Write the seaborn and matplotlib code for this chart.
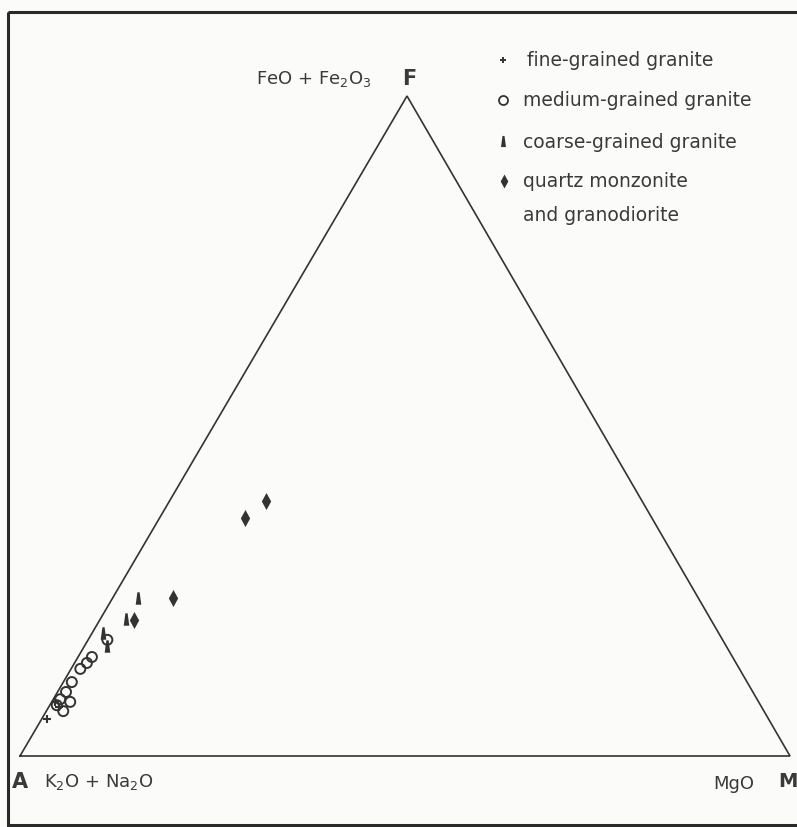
import numpy as np
import pandas as pd
import matplotlib
matplotlib.use("Agg")
import matplotlib.pyplot as plt
from matplotlib.patches import Rectangle
import seaborn as sns

# ---------------------------------------------------------------
# AFM data (wt% ratios), A / F / M
# ---------------------------------------------------------------
fine_A = [93.7, 91.4, 91.3]
fine_F = [5.6, 8.2, 7.4]
fine_M = [0.7, 0.4, 1.3]

medium_A = [79.9, 83.2, 84.3, 85.6, 87.7, 89.2, 90.5, 89.4, 91.0, 91.4]
medium_F = [17.6, 15.0, 14.1, 13.2, 11.2, 9.7, 8.6, 8.2, 6.8, 7.7]
medium_M = [2.5, 1.8, 1.6, 1.2, 1.1, 1.1, 0.9, 2.4, 2.2, 0.9]

coarse_A = [72.8, 75.9, 80.0, 80.4]
coarse_F = [23.9, 20.8, 18.6, 16.7]
coarse_M = [3.3, 3.3, 1.4, 2.9]

qm_A = [48.9, 52.8, 68.3, 74.9]
qm_F = [38.6, 36.1, 23.9, 20.6]
qm_M = [12.5, 11.1, 7.8, 4.5]

rock_labels = ["fine-grained granite", "medium-grained granite",
               "coarse-grained granite", "quartz monzonite\nand granodiorite"]

# triangle corners in figure pixel space (A, M, F)
A_xy = (20, 757)
M_xy = (790, 757)
F_xy = (407, 97)

INK = "#333333"
TXT = "#3a3a3a"

# custom marker shapes
coarse_marker = [(-0.18, 1), (0.18, 1), (0.45, -1), (-0.45, -1), (-0.18, 1)]
diamond_marker = [(0, 1), (0.55, 0), (0, -1), (-0.55, 0), (0, 1)]


def afm_to_xy(a, f, m):
    a, f, m = np.asarray(a, float), np.asarray(f, float), np.asarray(m, float)
    tot = a + f + m
    f, m = f / tot, m / tot
    x = A_xy[0] + m * (M_xy[0] - A_xy[0]) + f * (F_xy[0] - A_xy[0])
    y = A_xy[1] + f * (F_xy[1] - A_xy[1])
    return x, y


frames = []
for lab, a, f, m in zip(rock_labels,
                        [fine_A, medium_A, coarse_A, qm_A],
                        [fine_F, medium_F, coarse_F, qm_F],
                        [fine_M, medium_M, coarse_M, qm_M]):
    x, y = afm_to_xy(a, f, m)
    frames.append(pd.DataFrame({"x": x, "y": y, "rock": lab}))
df = pd.concat(frames, ignore_index=True)

sns.set_style("white")
plt.rcParams["font.family"] = ["DejaVu Sans"]
plt.rcParams["mathtext.default"] = "regular"

fig = plt.figure(figsize=(7.97, 8.28), dpi=100, facecolor="#fbfbf9")
ax = fig.add_axes([0, 0, 1, 1])
ax.set_facecolor("#fbfbf9")
ax.axis("off")

# outer frame
ax.add_patch(Rectangle((8, 13), 820, 813, fill=False, ec="#2a2a2a", lw=2.2))

# triangle
tri = np.array([A_xy, M_xy, F_xy, A_xy])
ax.plot(tri[:, 0], tri[:, 1], color=INK, lw=1.2, solid_joinstyle="miter")

# points
sns.scatterplot(data=df[df.rock == rock_labels[0]], x="x", y="y", ax=ax,
                marker="+", s=34, color=INK, linewidth=1.5)
sns.scatterplot(data=df[df.rock == rock_labels[1]], x="x", y="y", ax=ax,
                marker="o", s=52, facecolor="none", edgecolor=INK, linewidth=1.4)
sns.scatterplot(data=df[df.rock == rock_labels[2]], x="x", y="y", ax=ax,
                marker=coarse_marker, s=80, color=INK, linewidth=0)
sns.scatterplot(data=df[df.rock == rock_labels[3]], x="x", y="y", ax=ax,
                marker=diamond_marker, s=150, color=INK, linewidth=0)
ax.set_xlim(0, 797)
ax.set_ylim(828, 0)

# corner labels
txt = dict(color=TXT, va="center")
ax.text(F_xy[0] + 2, 79, "F", fontsize=15, fontweight="bold", ha="center", **txt)
ax.text(256, 79, "FeO + Fe$_2$O$_3$", fontsize=13, ha="left", **txt)
ax.text(12, 782, "A", fontsize=15, fontweight="bold", ha="left", **txt)
ax.text(44, 782, "K$_2$O + Na$_2$O", fontsize=13, ha="left", **txt)
ax.text(713, 784, "MgO", fontsize=13, ha="left", **txt)
ax.text(778, 782, "M", fontsize=14, fontweight="bold", ha="left", **txt)

# legend (drawn by hand to match the original layout)
leg_y = [61, 101, 142, 182]
ax.plot(503, leg_y[0], marker="+", ms=5, mew=1.4, color=INK)
ax.plot(503, leg_y[1], marker="o", ms=6.5, mfc="none", mec=INK, mew=1.3)
ax.plot(503, leg_y[2], marker=coarse_marker, ms=8, color=INK, mew=0)
ax.plot(504, leg_y[3], marker=diamond_marker, ms=10, color=INK, mew=0)
ax.text(527, leg_y[0], rock_labels[0], fontsize=13.5, ha="left", **txt)
ax.text(523, leg_y[1], rock_labels[1], fontsize=13.5, ha="left", **txt)
ax.text(523, leg_y[2], rock_labels[2], fontsize=13.5, ha="left", **txt)
ax.text(523, leg_y[3] - 10, rock_labels[3], fontsize=13.5, ha="left", va="top",
        color=TXT, linespacing=2.0)

fig.savefig("out.png", dpi=100, facecolor=fig.get_facecolor())
